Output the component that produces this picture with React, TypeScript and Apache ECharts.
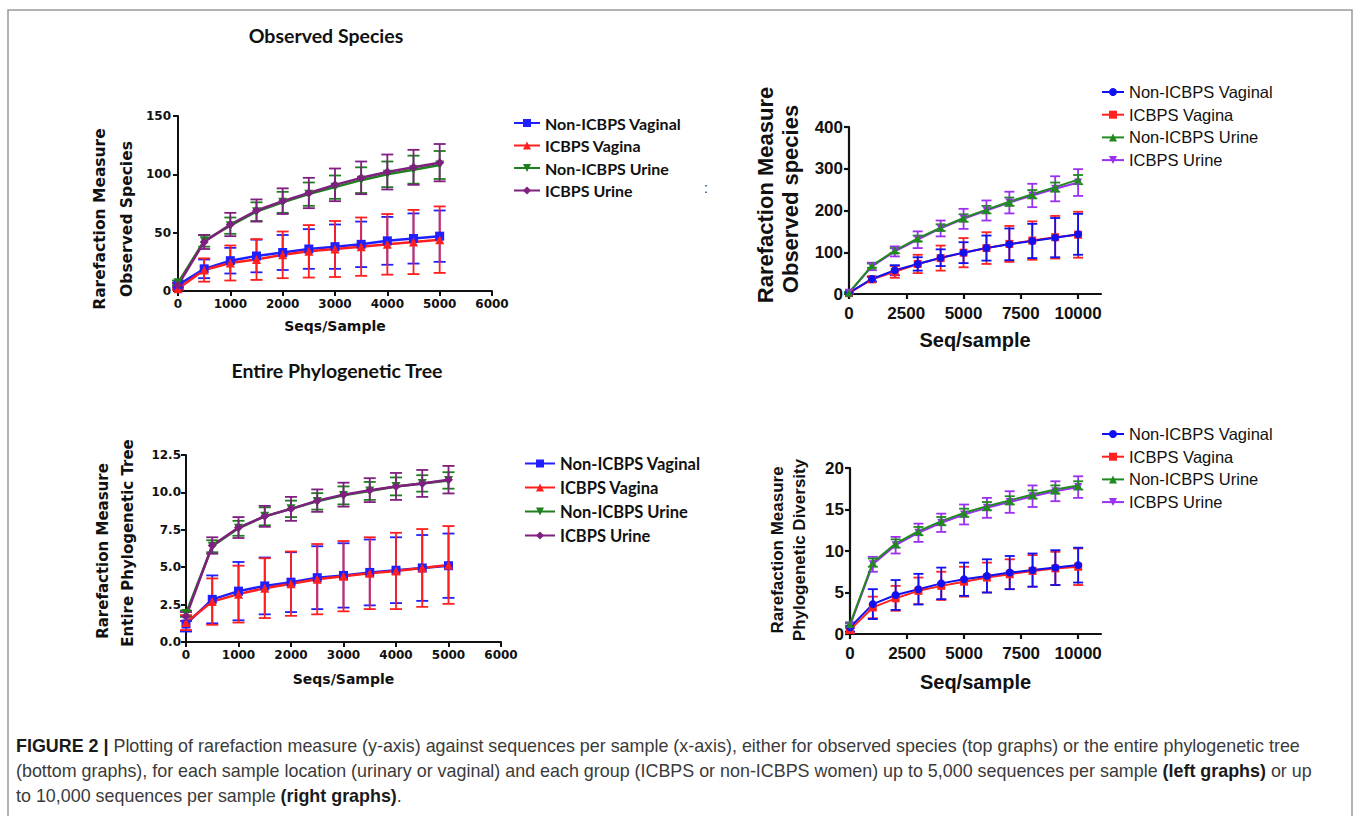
import React, { useEffect, useRef } from 'react';
import * as echarts from 'echarts';

// ---------- data ----------
const groupNames = ['Non-ICBPS Vaginal', 'ICBPS Vagina', 'Non-ICBPS Urine', 'ICBPS Urine'];

const seqsLeft = [0, 500, 1000, 1500, 2000, 2500, 3000, 3500, 4000, 4500, 5000];
const seqsRight = [0, 1000, 2000, 3000, 4000, 5000, 6000, 7000, 8000, 9000, 10000];

const xTicksLeft = [0, 1000, 2000, 3000, 4000, 5000, 6000];
const xTicksRight = [0, 2500, 5000, 7500, 10000];
const yTicksOsLeft = [0, 50, 100, 150];
const yTicksOsRight = [0, 100, 200, 300, 400];
const yTicksPdLeft = [0, 2.5, 5, 7.5, 10, 12.5];
const yTicksPdRight = [0, 5, 10, 15, 20];

// Observed species, up to 5000 seqs/sample
const osLeftNonVag = [5, 19, 26, 30, 33, 36, 38, 40, 43, 45, 47];
const osLeftNonVagErr = [2, 8, 11, 14, 15, 17, 19, 19.5, 20.5, 21.5, 22];
const osLeftIcVag = [2, 18, 24, 27, 31, 34, 36, 38, 40, 42, 44];
const osLeftIcVagErr = [1, 10, 15, 17.5, 20, 22.5, 24, 25, 26, 27.5, 28.5];
const osLeftNonUri = [7, 43, 56, 68, 76, 83, 89, 95, 100, 104, 108];
const osLeftNonUriErr = [2, 5, 7, 8, 9, 10, 10, 11, 11, 12, 12];
const osLeftIcUri = [5, 42, 57, 69, 77, 84, 91, 97, 102, 106, 110];
const osLeftIcUriErr = [2, 6, 10, 9.5, 11, 13, 14, 14, 15, 15, 16];

// Observed species, up to 10000 seqs/sample
const osRightNonVag = [3, 36, 57, 72, 87, 99, 110, 119, 127, 135, 143];
const osRightNonVagErr = [1, 6, 12, 16, 20, 25, 30, 38, 41, 47, 49];
const osRightIcVag = [2, 35, 53, 72, 86, 99, 110, 120, 128, 136, 142];
const osRightIcVagErr = [1, 6, 14, 22, 30, 35, 38, 43, 46, 51, 55];
const osRightNonUri = [3, 68, 104, 133, 159, 182, 202, 221, 239, 256, 274];
const osRightNonUriErr = [1, 5, 6, 7, 8, 9, 9, 10, 10, 11, 11];
const osRightIcUri = [3, 66, 102, 130, 157, 180, 200, 219, 236, 252, 267];
const osRightIcUriErr = [1, 9, 12, 20, 19, 24, 24, 26, 28, 30, 32];

// Entire phylogenetic tree, up to 5000 seqs/sample
const pdLeftNonVag = [1.2, 2.85, 3.4, 3.75, 4.0, 4.3, 4.45, 4.65, 4.8, 4.95, 5.1];
const pdLeftNonVagErr = [0.5, 1.6, 1.95, 1.9, 2.0, 2.1, 2.15, 2.2, 2.2, 2.2, 2.15];
const pdLeftIcVag = [1.3, 2.7, 3.2, 3.6, 3.9, 4.2, 4.4, 4.6, 4.75, 4.95, 5.15];
const pdLeftIcVagErr = [0.5, 1.55, 1.9, 2.0, 2.15, 2.35, 2.35, 2.4, 2.55, 2.6, 2.6];
const pdLeftNonUri = [1.9, 6.4, 7.6, 8.4, 8.9, 9.4, 9.8, 10.1, 10.4, 10.6, 10.8];
const pdLeftNonUriErr = [0.2, 0.4, 0.5, 0.6, 0.55, 0.55, 0.6, 0.6, 0.6, 0.55, 0.55];
const pdLeftIcUri = [1.7, 6.45, 7.65, 8.4, 8.9, 9.45, 9.85, 10.15, 10.4, 10.6, 10.85];
const pdLeftIcUriErr = [0.3, 0.55, 0.7, 0.7, 0.8, 0.75, 0.8, 0.8, 0.9, 0.9, 0.92];

// Phylogenetic diversity, up to 10000 seqs/sample
const pdRightNonVag = [0.8, 3.6, 4.7, 5.4, 6.1, 6.6, 7.0, 7.4, 7.7, 8.0, 8.3];
const pdRightNonVagErr = [0.5, 1.8, 1.8, 1.85, 1.9, 2.0, 2.0, 2.0, 2.0, 2.1, 2.1];
const pdRightIcVag = [0.5, 3.2, 4.3, 5.2, 5.8, 6.3, 6.8, 7.2, 7.6, 7.9, 8.1];
const pdRightIcVagErr = [0.4, 1.3, 1.5, 1.6, 1.7, 1.8, 1.8, 1.8, 1.9, 2.0, 2.2];
const pdRightNonUri = [1.2, 8.6, 10.9, 12.4, 13.6, 14.6, 15.4, 16.1, 16.8, 17.4, 17.9];
const pdRightNonUriErr = [0.2, 0.5, 0.5, 0.5, 0.5, 0.5, 0.5, 0.5, 0.5, 0.5, 0.5];
const pdRightIcUri = [1.0, 8.4, 10.7, 12.2, 13.4, 14.4, 15.2, 15.9, 16.6, 17.2, 17.7];
const pdRightIcUriErr = [0.3, 0.9, 1.0, 1.1, 1.1, 1.2, 1.2, 1.3, 1.3, 1.2, 1.3];

// ---------- styles ----------
const colorsLeft = ['#1f1fff', '#ff1f1f', '#1f7f1f', '#7f1f7f'];
const colorsRight = ['#1010f0', '#ff2020', '#208a20', '#9a30f0'];
const triDown = 'path://M0,0L10,0L5,9Z';
const symbolsLeft = ['rect', 'triangle', triDown, 'diamond'];
const symbolsRight = ['circle', 'rect', 'triangle', triDown];

const INK = '#111';

const leftTick = { fontFamily: 'DejaVu Sans', fontWeight: 'bold', fontSize: 12 };
const rightTick = { fontFamily: 'Liberation Sans', fontWeight: 'bold', fontSize: 17 };
const leftName = { fontFamily: 'DejaVu Sans', fontWeight: 'bold', fontSize: 14 };
const rightName = { fontFamily: 'Liberation Sans', fontWeight: 'bold', fontSize: 20 };

const panels = [
  {
    key: 'p1', grid: { left: 178, top: 116, width: 314, height: 175 },
    xs: seqsLeft, xMax: 6000, xTicks: xTicksLeft, yTicks: yTicksOsLeft,
    values: [osLeftNonVag, osLeftIcVag, osLeftNonUri, osLeftIcUri],
    errs: [osLeftNonVagErr, osLeftIcVagErr, osLeftNonUriErr, osLeftIcUriErr],
    colors: colorsLeft, symbols: symbolsLeft, order: [0, 1, 2, 3],
    tick: leftTick, nameFont: leftName, xName: 'Seqs/Sample', xNameGap: 28,
    xMargin: 7, yMargin: 7, axisW: 2, lineW: 2.5, errW: 1.8, cap: 12, symSize: 9, fmt: null,
    legend: { left: 513, top: 115, itemWidth: 26, gap: 6.5, lh: 16, font: { fontFamily: 'Lato', fontWeight: 'bold', fontSize: 16 } },
  },
  {
    key: 'p2', grid: { left: 849, top: 127, width: 252, height: 167 },
    xs: seqsRight, xMax: 11000, xTicks: xTicksRight, yTicks: yTicksOsRight,
    values: [osRightNonVag, osRightIcVag, osRightNonUri, osRightIcUri],
    errs: [osRightNonVagErr, osRightIcVagErr, osRightNonUriErr, osRightIcUriErr],
    colors: colorsRight, symbols: symbolsRight, order: [1, 0, 3, 2],
    tick: rightTick, nameFont: rightName, xName: 'Seq/sample', xNameGap: 36,
    xMargin: 11, yMargin: 6, axisW: 2.2, lineW: 2, errW: 1.8, cap: 10, symSize: 8, fmt: null,
    legend: { left: 1101, top: 83.5, itemWidth: 22, gap: 5.7, lh: 17, font: { fontFamily: 'Liberation Sans', fontWeight: 'normal', fontSize: 16.5 } },
  },
  {
    key: 'p3', grid: { left: 186, top: 455, width: 315, height: 187 },
    xs: seqsLeft, xMax: 6000, xTicks: xTicksLeft, yTicks: yTicksPdLeft,
    values: [pdLeftNonVag, pdLeftIcVag, pdLeftNonUri, pdLeftIcUri],
    errs: [pdLeftNonVagErr, pdLeftIcVagErr, pdLeftNonUriErr, pdLeftIcUriErr],
    colors: colorsLeft, symbols: symbolsLeft, order: [0, 1, 2, 3],
    tick: leftTick, nameFont: leftName, xName: 'Seqs/Sample', xNameGap: 30,
    xMargin: 7, yMargin: 5, axisW: 2, lineW: 2.5, errW: 1.8, cap: 12, symSize: 9,
    fmt: (v: number) => v.toFixed(1),
    legend: { left: 524, top: 455, itemWidth: 30, gap: 7, lh: 16, font: { fontFamily: 'Lato', fontWeight: 'bold', fontSize: 16.5 } },
  },
  {
    key: 'p4', grid: { left: 850, top: 468, width: 251, height: 166 },
    xs: seqsRight, xMax: 11000, xTicks: xTicksRight, yTicks: yTicksPdRight,
    values: [pdRightNonVag, pdRightIcVag, pdRightNonUri, pdRightIcUri],
    errs: [pdRightNonVagErr, pdRightIcVagErr, pdRightNonUriErr, pdRightIcUriErr],
    colors: colorsRight, symbols: symbolsRight, order: [1, 0, 3, 2],
    tick: rightTick, nameFont: rightName, xName: 'Seq/sample', xNameGap: 38,
    xMargin: 11, yMargin: 6, axisW: 2.2, lineW: 2, errW: 1.8, cap: 10, symSize: 8, fmt: null,
    legend: { left: 1101, top: 425.5, itemWidth: 22, gap: 5.7, lh: 17, font: { fontFamily: 'Liberation Sans', fontWeight: 'normal', fontSize: 16.5 } },
  },
];

function errorRenderer(color: string, cap: number, lw: number) {
  return (params: any, api: any) => {
    const x = api.value(0);
    const y = api.value(1);
    const e = api.value(2);
    const hi = api.coord([x, y + e]);
    const lo = api.coord([x, Math.max(y - e, 0)]);
    const st = { stroke: color, lineWidth: lw };
    const h = cap / 2;
    return {
      type: 'group',
      children: [
        { type: 'line', shape: { x1: hi[0], y1: hi[1], x2: lo[0], y2: lo[1] }, style: st },
        { type: 'line', shape: { x1: hi[0] - h, y1: hi[1], x2: hi[0] + h, y2: hi[1] }, style: st },
        { type: 'line', shape: { x1: lo[0] - h, y1: lo[1], x2: lo[0] + h, y2: lo[1] }, style: st },
      ],
    };
  };
}

function buildOption() {
  const grid: any[] = [];
  const xAxis: any[] = [];
  const yAxis: any[] = [];
  const series: any[] = [];
  const legend: any[] = [];

  panels.forEach((p, i) => {
    grid.push({ ...p.grid, containLabel: false, outerBoundsMode: 'none' });
    const axisLine = { show: true, onZero: false, lineStyle: { color: INK, width: p.axisW } };
    xAxis.push({
      type: 'value', gridIndex: i, min: 0, max: p.xMax, interval: p.xTicks[1] - p.xTicks[0],
      name: p.xName, nameLocation: 'middle', nameGap: p.xNameGap,
      nameTextStyle: { ...p.nameFont, color: INK },
      axisLine,
      axisTick: { show: true, inside: false, length: 5, customValues: p.xTicks, lineStyle: { color: INK, width: p.axisW } },
      axisLabel: {
        show: true, customValues: p.xTicks, margin: p.xMargin, ...p.tick, color: INK,
        formatter: (v: number) => String(v),
      },
      splitLine: { show: false },
    });
    const yMax = p.yTicks[p.yTicks.length - 1];
    yAxis.push({
      type: 'value', gridIndex: i, min: 0, max: yMax, interval: p.yTicks[1] - p.yTicks[0],
      axisLine,
      axisTick: { show: true, inside: false, length: 5, customValues: p.yTicks, lineStyle: { color: INK, width: p.axisW } },
      axisLabel: {
        show: true, customValues: p.yTicks, margin: p.yMargin, ...p.tick, color: INK,
        formatter: p.fmt ? p.fmt : (v: number) => String(v),
      },
      splitLine: { show: false },
    });

    p.order.forEach((g) => {
      const color = p.colors[g];
      series.push({
        type: 'custom',
        name: `${p.key}|${groupNames[g]}|err`,
        xAxisIndex: i, yAxisIndex: i,
        coordinateSystem: 'cartesian2d',
        renderItem: errorRenderer(color, p.cap, p.errW),
        data: p.xs.map((x, k) => [x, p.values[g][k], p.errs[g][k]]),
        encode: { x: 0, y: 1 },
        clip: false, silent: true, z: 2,
      });
      series.push({
        type: 'line',
        name: `${p.key}|${groupNames[g]}`,
        xAxisIndex: i, yAxisIndex: i,
        data: p.xs.map((x, k) => [x, p.values[g][k]]),
        symbol: p.symbols[g], symbolSize: p.symSize, showSymbol: true,
        lineStyle: { color, width: p.lineW },
        itemStyle: { color, borderWidth: 0 },
        emphasis: { disabled: true }, silent: true, z: 3,
      });
    });

    legend.push({
      orient: 'vertical', left: p.legend.left, top: p.legend.top, padding: 0,
      itemWidth: p.legend.itemWidth, itemHeight: 10, itemGap: p.legend.gap,
      selectedMode: false,
      data: groupNames.map((n) => `${p.key}|${n}`),
      formatter: (n: string) => n.split('|')[1],
      textStyle: { ...p.legend.font, color: INK, lineHeight: p.legend.lh },
    });
  });

  const yTitle = (text: string, x: number, y: number, font: any) => ({
    type: 'text', x, y, rotation: Math.PI / 2, silent: true,
    style: { text, ...font, fill: INK, align: 'center', verticalAlign: 'middle' },
  });
  const titleFont = { fontFamily: 'Lato', fontWeight: 'bold', fontSize: 19.5 };
  const ltf = { fontFamily: 'DejaVu Sans', fontWeight: 'bold', fontSize: 15.5 };
  const ltf3 = { fontFamily: 'DejaVu Sans', fontWeight: 'bold', fontSize: 15 };
  const rtf2 = { fontFamily: 'Liberation Sans', fontWeight: 'bold', fontSize: 22 };
  const rtf4 = { fontFamily: 'Liberation Sans', fontWeight: 'bold', fontSize: 17 };
  const capFont = { fontFamily: 'Liberation Sans', fontSize: 17.9, fill: '#3a3a3a' };
  const capRich = { b: { fontFamily: 'Liberation Sans', fontSize: 17.9, fontWeight: 'bold', fill: '#1a1a1a', color: '#1a1a1a' } };

  const graphic: any[] = [
    { type: 'rect', silent: true, shape: { x: 8, y: 10, width: 1344, height: 830 }, style: { fill: 'none', stroke: '#9a9a9a', lineWidth: 1.5 } },
    { type: 'text', x: 326, y: 35, silent: true, style: { text: 'Observed Species', ...titleFont, fill: INK, align: 'center', verticalAlign: 'middle' } },
    { type: 'text', x: 337, y: 370, silent: true, style: { text: 'Entire Phylogenetic Tree', ...titleFont, fill: INK, align: 'center', verticalAlign: 'middle' } },
    { type: 'text', x: 706, y: 188, silent: true, style: { text: ':', fontFamily: 'Liberation Sans', fontSize: 14, fill: '#333', align: 'center', verticalAlign: 'middle' } },
    yTitle('Rarefaction Measure', 100, 219, ltf),
    yTitle('Observed Species', 127, 219, ltf),
    yTitle('Rarefaction Measure', 103, 551, ltf3),
    yTitle('Entire Phylogenetic Tree', 128, 543, ltf3),
    yTitle('Rarefaction Measure', 765, 195, rtf2),
    yTitle('Observed species', 790, 199, rtf2),
    yTitle('Rarefaction Measure', 777, 550, rtf4),
    yTitle('Phylogenetic Diversity', 799, 550, rtf4),
    { type: 'text', x: 16, y: 746, silent: true, style: { text: '{b|FIGURE 2 |} Plotting of rarefaction measure (y-axis) against sequences per sample (x-axis), either for observed species (top graphs) or the entire phylogenetic tree', ...capFont, rich: capRich, verticalAlign: 'middle' } },
    { type: 'text', x: 16, y: 771, silent: true, style: { text: '(bottom graphs), for each sample location (urinary or vaginal) and each group (ICBPS or non-ICBPS women) up to 5,000 sequences per sample {b|(left graphs)} or up', ...capFont, rich: capRich, verticalAlign: 'middle' } },
    { type: 'text', x: 16, y: 796, silent: true, style: { text: 'to 10,000 sequences per sample {b|(right graphs)}.', ...capFont, rich: capRich, verticalAlign: 'middle' } },
  ];

  return {
    animation: false,
    backgroundColor: '#ffffff',
    grid, xAxis, yAxis, series, legend, graphic,
  };
}

export default function App() {
  const ref = useRef<HTMLDivElement>(null);
  useEffect(() => {
    if (!ref.current) return;
    const chart = echarts.init(ref.current, null, { renderer: 'svg' });
    chart.setOption(buildOption() as any);
    return () => chart.dispose();
  }, []);
  return (
    <div
      ref={ref}
      style={{ position: 'absolute', left: 0, top: 0, width: 1360, height: 816, background: '#fff' }}
    />
  );
}
